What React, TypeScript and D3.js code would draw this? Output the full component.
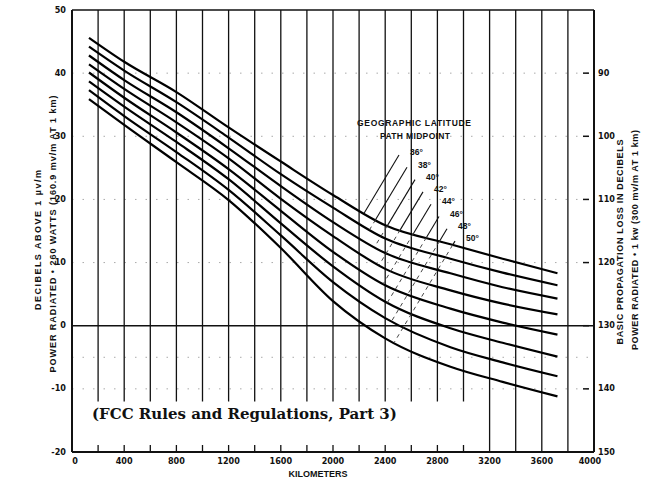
import React from 'react'
import * as d3 from 'd3'

// distance along path (km) where the readings were taken
const kmPoints = [130, 400, 800, 1200, 1600, 2000, 2400, 2900, 3300, 3720]

// field strength, dB above 1 uV/m, one array per latitude of path midpoint
const lat36 = [45.6, 41.8, 37.0, 31.4, 26.0, 20.7, 15.9, 12.9, 10.6, 8.3]
const lat38 = [44.2, 40.4, 35.4, 29.8, 24.0, 18.7, 13.8, 10.6, 8.4, 6.4]
const lat40 = [42.8, 38.9, 33.8, 28.1, 22.1, 16.4, 11.5, 8.3, 6.1, 4.3]
const lat42 = [41.4, 37.5, 32.2, 26.5, 20.1, 14.2, 9.0, 5.6, 3.5, 1.8]
const lat44 = [40.1, 36.1, 30.6, 24.8, 18.2, 11.7, 6.4, 2.7, 0.5, -1.4]
const lat46 = [38.7, 34.7, 29.1, 23.2, 16.2, 9.4, 3.8, -0.4, -2.7, -4.9]
const lat48 = [37.3, 33.2, 27.5, 21.5, 14.3, 6.9, 1.2, -3.4, -5.8, -8.0]
const lat50 = [35.9, 31.8, 25.9, 19.9, 12.3, 3.9, -2.0, -6.5, -8.9, -11.2]

const latitudes = ['36°', '38°', '40°', '42°', '44°', '46°', '48°', '50°']
const curves = [lat36, lat38, lat40, lat42, lat44, lat46, lat48, lat50]

const kmTicks = [0, 400, 800, 1200, 1600, 2000, 2400, 2800, 3200, 3600, 4000]
const dbTicks = [50, 40, 30, 20, 10, 0, -10, -20]
const lossTicks = [90, 100, 110, 120, 130, 140, 150]

const width = 647
const height = 480
const left = 72
const right = 594
const top = 10
const bottom = 452

const x = d3.scaleLinear().domain([0, 4000]).range([left, right])
const y = d3.scaleLinear().domain([-20, 50]).range([bottom, top])
// basic propagation loss = 130 - dB
const yLoss = d3.scaleLinear().domain([150, 80]).range([bottom, top])

const lineFn = d3.line<number>()
  .x((_, i) => x(kmPoints[i]))
  .y(d => y(d))
  .curve(d3.curveMonotoneX)

const gridKm = d3.range(200, 4000, 200)
const tickFont = '"Liberation Sans Narrow", "DejaVu Sans Condensed", "Liberation Sans", sans-serif'
const titleFont = '"Liberation Sans", "DejaVu Sans", sans-serif'

// legend label placement
const legX = 410
const legY = 153
const legDx = 8
const legDy = 12.3
const leaderSlope = -0.6

function leader(i: number) {
  const x0 = legX + i * legDx - 11
  const y0 = legY + i * legDy + 2
  const at = (yy: number) => x0 + leaderSlope * (yy - y0)
  const hit = (values: number[]) => {
    const f = d3.scaleLinear().domain(kmPoints).range(values)
    for (let yy = y0; yy < bottom; yy += 0.25) {
      if (yy >= y(f(x.invert(at(yy))))) return yy
    }
    return bottom
  }
  const y1 = hit(curves[0])
  const y2 = hit(curves[i])
  return { x0, y0, x1: at(y1), y1, x2: at(y2), y2 }
}

export default function App() {
  return (
    <svg width={width} height={height} style={{ display: 'block', position: 'absolute', left: 0, top: 0, background: '#fff' }}>
      <rect x={0} y={0} width={width} height={height} fill="#fff" />

      {/* faint dotted horizontals */}
      {dbTicks.filter(d => d !== 0 && d !== 50 && d !== -20).concat([-5]).map(d => (
        <line key={'h' + d} x1={left} x2={right} y1={y(d)} y2={y(d)}
          stroke="#aaa" strokeWidth={1} strokeDasharray="1.5 9" />
      ))}

      {/* vertical grid every 200 km */}
      {gridKm.map(k => (
        <line key={'v' + k} x1={x(k)} x2={x(k)} y1={top} y2={k >= 3200 ? bottom : y(-12)}
          stroke="#111" strokeWidth={1.3} />
      ))}

      {/* zero line */}
      <line x1={left} x2={right} y1={y(0)} y2={y(0)} stroke="#111" strokeWidth={1.5} />

      {/* frame */}
      <line x1={left} x2={right} y1={top} y2={top} stroke="#111" strokeWidth={1.6} />
      <line x1={left} x2={left} y1={top} y2={bottom} stroke="#111" strokeWidth={2} />
      <line x1={right} x2={right} y1={top} y2={bottom} stroke="#111" strokeWidth={2} />
      <line x1={left} x2={right} y1={bottom} y2={bottom} stroke="#111" strokeWidth={2} />

      {/* bottom ticks */}
      {gridKm.filter(k => k < 3200).map(k => (
        <line key={'bt' + k} x1={x(k)} x2={x(k)} y1={bottom} y2={bottom - 7} stroke="#111" strokeWidth={1.3} />
      ))}

      {/* right inner ticks */}
      {lossTicks.map(l => (
        <line key={'rt' + l} x1={right - 11} x2={right - 5} y1={yLoss(l)} y2={yLoss(l)} stroke="#111" strokeWidth={1.5} />
      ))}

      {/* curves */}
      {curves.map((c, i) => (
        <path key={latitudes[i]} d={lineFn(c) || ''} fill="none" stroke="#000" strokeWidth={2.2} strokeLinejoin="round" />
      ))}

      {/* legend */}
      <g fontFamily={titleFont} fontWeight="bold" fontSize={8.5} fill="#111">
        <text x={414} y={124} textAnchor="middle" dominantBaseline="middle" textLength={114} lengthAdjust="spacing">GEOGRAPHIC LATITUDE</text>
        <text x={415} y={137} textAnchor="middle" dominantBaseline="middle" textLength={70} lengthAdjust="spacing">PATH MIDPOINT</text>
        {latitudes.map((lab, i) => {
          const L = leader(i)
          return (
            <g key={'leg' + lab}>
              <text x={legX + i * legDx} y={legY + i * legDy} dominantBaseline="middle">{lab}</text>
              <line x1={L.x0} y1={L.y0} x2={L.x1} y2={L.y1} stroke="#111" strokeWidth={1.1} />
              {i > 0 && (
                <line x1={L.x1} y1={L.y1} x2={L.x2} y2={L.y2} stroke="#444" strokeWidth={1} strokeDasharray="4 4" />
              )}
            </g>
          )
        })}
      </g>

      {/* tick labels */}
      <g fontFamily={tickFont} fontWeight="bold" fontSize={9} fill="#111">
        {dbTicks.map(d => (
          <text key={'l' + d} x={left - 6} y={y(d)} textAnchor="end" dominantBaseline="middle">{d}</text>
        ))}
        {lossTicks.map(l => (
          <text key={'r' + l} x={right + 4} y={yLoss(l)} dominantBaseline="middle">{l}</text>
        ))}
        {kmTicks.map(k => (
          <text key={'b' + k} x={x(k) + (k === 0 ? 3 : k === 4000 ? -4 : 0)} y={461} textAnchor="middle" dominantBaseline="middle">{k}</text>
        ))}
      </g>

      {/* axis titles */}
      <g fontFamily={titleFont} fontWeight="bold" fill="#111" fontSize={9}>
        <text x={318} y={475} textAnchor="middle" dominantBaseline="middle">KILOMETERS</text>
        <text transform="translate(41,240) rotate(-90)" textAnchor="middle" textLength={140} lengthAdjust="spacing">DECIBELS ABOVE 1 µv/m</text>
        <text transform="translate(56,234) rotate(-90)" textAnchor="middle" textLength={277} lengthAdjust="spacing">POWER RADIATED • 260 WATTS (160.9 mv/m AT 1 km)</text>
        <text transform="translate(623,242) rotate(-90)" textAnchor="middle" textLength={205} lengthAdjust="spacing">BASIC PROPAGATION LOSS IN DECIBELS</text>
        <text transform="translate(638,240) rotate(-90)" textAnchor="middle" textLength={220} lengthAdjust="spacing">POWER RADIATED • 1 kw (300 mv/m AT 1 km)</text>
      </g>

      <text x={92} y={419} fontFamily='"DejaVu Serif", serif' fontWeight="bold" fontSize={15} fill="#111">
        (FCC Rules and Regulations, Part 3)
      </text>
    </svg>
  )
}
